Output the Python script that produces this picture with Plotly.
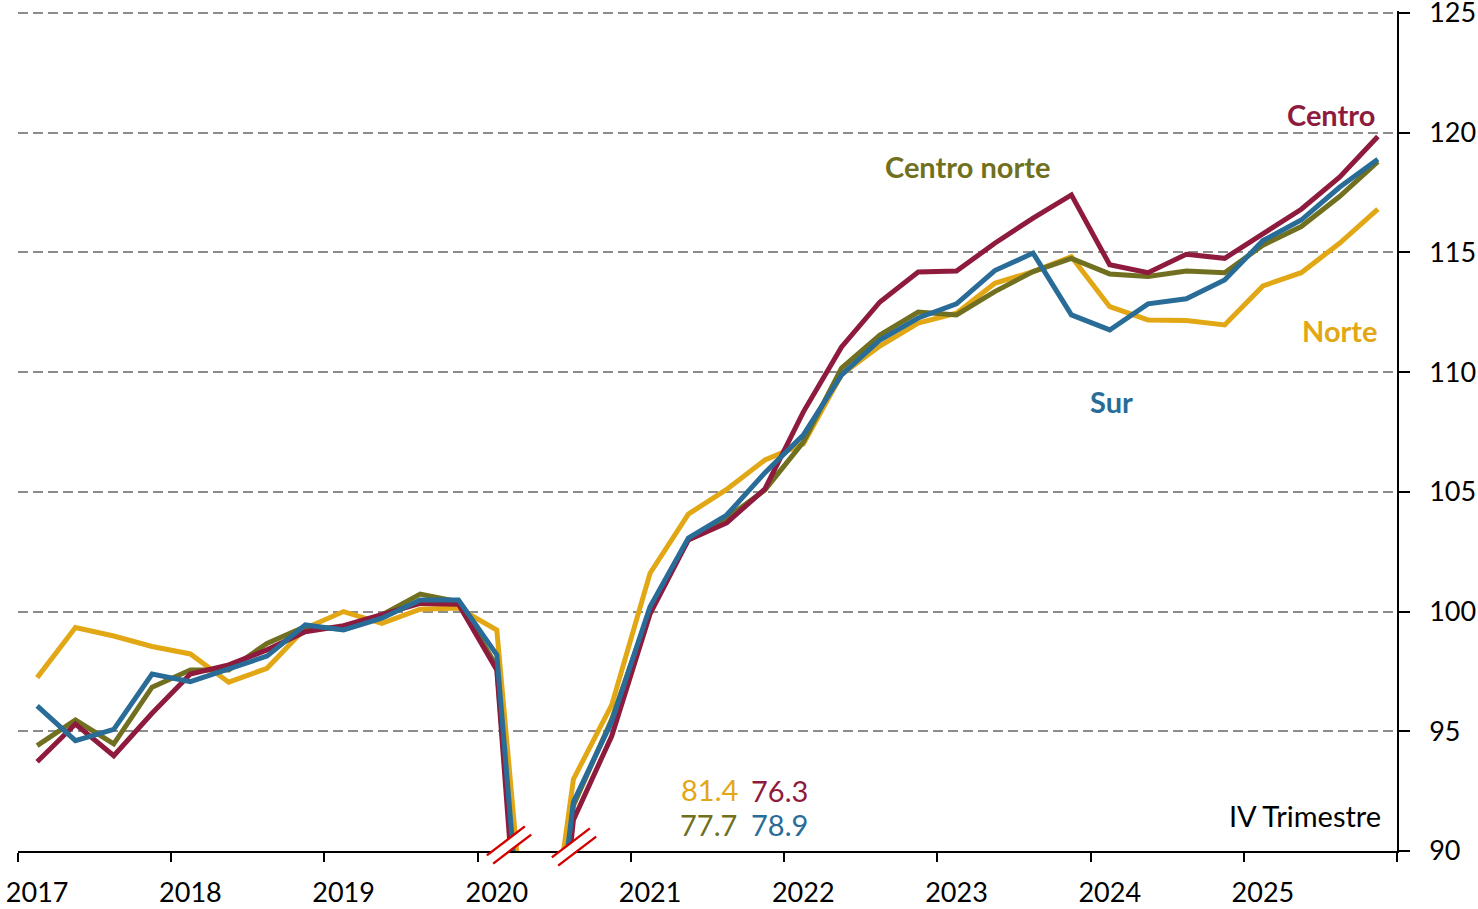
import math
import plotly.graph_objects as go

years = ["2017", "2018", "2019", "2020", "2021", "2022", "2023", "2024", "2025"]
quarters = list(range(36))

norte = [97.24, 99.33, 98.98, 98.54, 98.23, 97.05, 97.63, 99.3, 100.0, 99.51, 100.1, 100.15,
         99.23, 81.4, 93.0, 96.1, 101.6, 104.07, 105.1, 106.33, 107.0, 109.9, 111.09, 112.05,
         112.46, 113.71, 114.2, 114.82, 112.73, 112.18, 112.15, 111.97, 113.6, 114.15, 115.38, 116.81]
centro = [93.73, 95.3, 93.98, 95.75, 97.39, 97.77, 98.4, 99.16, 99.41, 99.86, 100.34, 100.3,
          97.56, 76.3, 91.3, 94.8, 99.9, 102.99, 103.7, 105.12, 108.33, 111.05, 112.93, 114.18,
          114.22, 115.38, 116.43, 117.4, 114.48, 114.15, 114.92, 114.75, 115.8, 116.8, 118.14, 119.84]
centro_norte = [94.4, 95.47, 94.47, 96.84, 97.56, 97.56, 98.67, 99.37, 99.26, 99.86, 100.73, 100.41,
                97.7, 77.7, 91.9, 95.5, 100.1, 103.0, 103.9, 105.08, 107.08, 110.17, 111.55, 112.51,
                112.39, 113.36, 114.2, 114.75, 114.1, 113.99, 114.22, 114.15, 115.3, 116.08, 117.33, 118.79]
sur = [96.06, 94.61, 95.08, 97.39, 97.07, 97.63, 98.14, 99.44, 99.23, 99.72, 100.48, 100.48,
       98.19, 78.9, 92.05, 95.4, 100.2, 103.07, 104.03, 105.8, 107.37, 109.88, 111.34, 112.26,
       112.85, 114.24, 114.97, 112.39, 111.76, 112.85, 113.06, 113.85, 115.49, 116.35, 117.72, 118.89]

series_names = ["Norte", "Centro norte", "Centro", "Sur"]
COL = {"Norte": "#E2A714", "Centro norte": "#707020", "Centro": "#8E1B3D", "Sur": "#296C97"}
DATA = {"Norte": norte, "Centro norte": centro_norte, "Centro": centro, "Sur": sur}

FONT = "Lato"
fig = go.Figure()
for name in series_names:
    fig.add_trace(go.Scatter(x=quarters, y=DATA[name], mode="lines", name=name,
                             line=dict(color=COL[name], width=5), showlegend=False,
                             hoverinfo="skip"))

# plot area in pixels
L, R, T, B = 18, 1397, 11, 851
W, H = 1478, 909
YMAX = 125.08

def px_to_paper(px, py):
    return (px - L) / (R - L), (B - py) / (B - T)

# Series labels
labels = [("Centro", 33.78, 120.74, "Centro"), ("Centro norte", 24.30, 118.57, "Centro norte"),
          ("Norte", 34.02, 111.72, "Norte"), ("Sur", 28.04, 108.79, "Sur")]
for txt, xv, yv, key in labels:
    fig.add_annotation(x=xv, y=yv, xref="x", yref="y", text="<b>%s</b>" % txt, showarrow=False,
                       font=dict(family=FONT, size=29, color=COL[key]), xanchor="center", yanchor="middle")

# 2020 Q2 values (off-scale)
drop_labels = [(f"{norte[13]:.1f}", 17.54, 92.55, "Norte"), (f"{centro[13]:.1f}", 19.37, 92.51, "Centro"),
               (f"{centro_norte[13]:.1f}", 17.52, 91.09, "Centro norte"), (f"{sur[13]:.1f}", 19.37, 91.09, "Sur")]
for txt, xv, yv, key in drop_labels:
    fig.add_annotation(x=xv, y=yv, xref="x", yref="y", text=txt, showarrow=False,
                       font=dict(family=FONT, size=29, color=COL[key]), xanchor="center", yanchor="middle")

fig.add_annotation(x=35.14, y=91.5, xref="x", yref="y", text="IV Trimestre", showarrow=False,
                   font=dict(family=FONT, size=29, color="#000000"), xanchor="right", yanchor="middle")

# axis break marks
for cx, cy in [(509, 845), (574, 847)]:
    dx, dy = 19, -14.5
    n = math.hypot(dx, dy)
    ox, oy = -dy / n * 5.2, dx / n * 5.2
    x0, y0 = px_to_paper(cx - dx, cy - dy)
    x1, y1 = px_to_paper(cx + dx, cy + dy)
    fig.add_shape(type="line", xref="paper", yref="paper", x0=x0, y0=y0, x1=x1, y1=y1,
                  line=dict(color="white", width=9), layer="above")
    for s in (-1, 1):
        a0, b0 = px_to_paper(cx - dx + s * ox, cy - dy + s * oy)
        a1, b1 = px_to_paper(cx + dx + s * ox, cy + dy + s * oy)
        fig.add_shape(type="line", xref="paper", yref="paper", x0=a0, y0=b0, x1=a1, y1=b1,
                      line=dict(color="#D40000", width=2.4), layer="above")

fig.update_layout(
    width=W, height=H,
    margin=dict(l=L, r=W - R, t=T, b=H - B, pad=0),
    paper_bgcolor="white", plot_bgcolor="white",
    font=dict(family=FONT, size=27, color="#000000"),
    hovermode=False,
    xaxis=dict(range=[-0.5, 35.5], tickmode="array", tickvals=[0, 4, 8, 12, 16, 20, 24, 28, 32],
               ticktext=years, ticks="outside", ticklen=17, tickcolor="rgba(0,0,0,0)",
               showgrid=False, zeroline=False, showline=True, linecolor="#000000", linewidth=1.5,
               tickfont=dict(family=FONT, size=27), automargin=False, ticklabeloverflow="allow",
               minor=dict(tickmode="array", tickvals=[-0.5 + 4 * k for k in range(10)],
                          ticks="outside", ticklen=9, tickcolor="#000000", tickwidth=1.5, showgrid=False)),
    yaxis=dict(range=[90, YMAX], side="right", tickmode="array", tickvals=list(range(90, 126, 5)),
               ticks="outside", ticklen=11, tickcolor="#000000", tickwidth=1.5,
               showline=True, linecolor="#000000", linewidth=1.5, zeroline=False,
               showgrid=True, gridcolor="#8C8C8C", gridwidth=1.8, griddash="10px,5px",
               tickfont=dict(family=FONT, size=27), automargin=False, ticklabeloverflow="allow",
               ticklabelstandoff=14),
)
fig.write_html("out.html", config={"displayModeBar": False},
               post_script="document.body.style.margin='0px';")
